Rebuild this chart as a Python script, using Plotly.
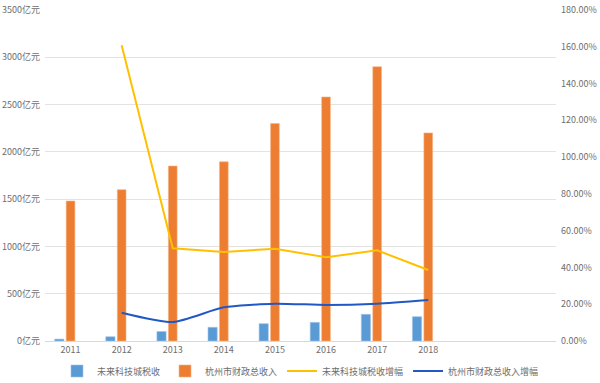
import plotly.graph_objects as go

years = ["2011", "2012", "2013", "2014", "2015", "2016", "2017", "2018"]
tax_future_city = [20, 45, 100, 145, 183, 197, 282, 257]          # 亿元
hz_fiscal_total = [1480, 1600, 1850, 1895, 2300, 2580, 2900, 2200]  # 亿元
tax_growth = [None, 160.8, 50.4, 48.4, 50.2, 45.5, 49.3, 38.6]      # %
fiscal_growth = [None, 15.4, 10.3, 18.3, 20.3, 19.6, 20.3, 22.3]    # %

left_ticks = [0, 500, 1000, 1500, 2000, 2500, 3000, 3500]
right_ticks = [0, 20, 40, 60, 80, 100, 120, 140, 160, 180]

x = list(range(len(years)))
FONT = "Noto Sans CJK SC"
GREY = "#6e6e6e"

fig = go.Figure()
fig.add_trace(go.Bar(
    x=x, y=tax_future_city, name="未来科技城税收",
    marker=dict(color="#5B9BD5", line=dict(color="#9DC3E6", width=0.6)),
    width=0.18, offset=-0.31,
))
fig.add_trace(go.Bar(
    x=x, y=hz_fiscal_total, name="杭州市财政总收入",
    marker=dict(color="#ED7D31", line=dict(color="#F4B183", width=0.6)),
    width=0.17, offset=-0.085,
))
fig.add_trace(go.Scatter(
    x=x, y=tax_growth, name="未来科技城税收增幅", yaxis="y2",
    mode="lines", line=dict(color="#FFC000", width=2),
))
fig.add_trace(go.Scatter(
    x=x, y=fiscal_growth, name="杭州市财政总收入增幅", yaxis="y2",
    mode="lines", line=dict(color="#2257C6", width=2, shape="spline", smoothing=0.6),
))

fig.update_layout(
    width=600, height=383,
    margin=dict(l=45, r=44, t=10, b=42, autoexpand=False),
    paper_bgcolor="white", plot_bgcolor="white",
    font=dict(family=FONT, size=9, color=GREY),
    barmode="overlay",
    showlegend=True,
    legend=dict(orientation="h", x=0.5, xanchor="center",
                yref="container", y=12 / 383, yanchor="middle",
                font=dict(size=9, color=GREY), itemwidth=30, tracegroupgap=0),
    xaxis=dict(
        range=[-0.5, 9.5], tickmode="array", tickvals=x, ticktext=years,
        showgrid=False, zeroline=False, showline=True, linecolor="#d9d9d9", linewidth=1,
        ticks="", tickfont=dict(size=9, color=GREY), automargin=False,
    ),
    yaxis=dict(
        range=[0, 3500], tickmode="array", tickvals=left_ticks,
        ticktext=[f"{v}亿元" for v in left_ticks],
        showgrid=True, gridcolor="#e3e3e3", gridwidth=1, zeroline=False,
        showline=False, ticks="", tickfont=dict(size=9, color=GREY), automargin=False,
        ticklabelstandoff=4,
    ),
    yaxis2=dict(
        range=[0, 180], overlaying="y", side="right", tickmode="array",
        tickvals=right_ticks, ticktext=[f"{v:.2f}%" for v in right_ticks],
        showgrid=False, zeroline=False, showline=False, ticks="",
        tickfont=dict(size=9, color=GREY), automargin=False,
        ticklabelstandoff=4,
    ),
)

fig.write_html(
    "out.html",
    config={"displayModeBar": False},
    post_script="document.body.style.margin='0';document.body.style.overflow='hidden';",
)
